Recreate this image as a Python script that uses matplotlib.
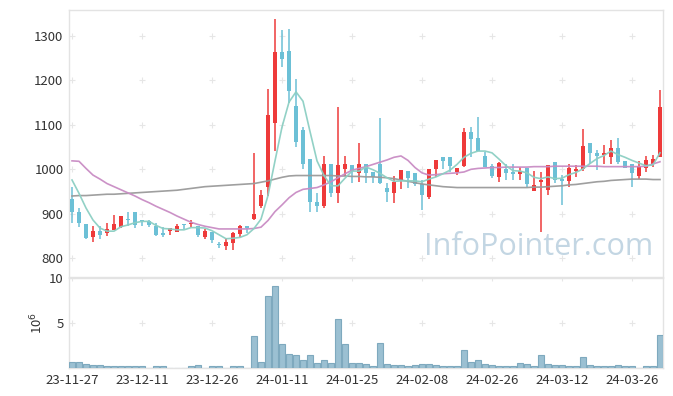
import matplotlib
matplotlib.use("Agg")
import matplotlib.pyplot as plt
import numpy as np

plt.rcParams['font.family'] = ['Noto Sans CJK KR', 'DejaVu Sans']

# ---- data ----
opens = [933, 905, 877, 847, 861, 858, 864, 870, 888, 905, 886, 883, 873, 856, 862, 860, 877, 876, 873, 847,
         859, 832, 828, 835, 855, 873, 889, 918, 961, 1105, 1264, 1266, 1142, 1088, 1023, 927, 918, 1012, 947, 1000,
         1010, 992, 1013, 993, 1013, 957, 947, 976, 996, 991, 967, 938, 1000, 1027, 1027, 995, 1008, 1083, 1070, 1031,
         1007, 983, 1001, 995, 990, 1004, 952, 972, 953, 1016, 978, 974, 997, 1000, 1059, 1036, 1032, 1028, 1048, 1018,
         1013, 985, 1004, 1013, 1028]
highs = [960, 912, 877, 873, 873, 879, 897, 895, 904, 905, 886, 886, 879, 870, 867, 877, 877, 886, 873, 865,
         859, 837, 845, 858, 875, 873, 1037, 953, 1180, 1337, 1314, 1316, 1202, 1094, 1023, 947, 1030, 1012, 1139, 1031,
         1010, 1058, 1013, 993, 1115, 970, 985, 998, 996, 991, 976, 1000, 1022, 1027, 1027, 1004, 1092, 1094, 1117, 1038,
         1012, 1017, 1011, 1011, 1006, 1004, 996, 995, 1010, 1016, 987, 1011, 1009, 1090, 1059, 1043, 1055, 1066, 1070, 1018,
         1013, 1019, 1030, 1032, 1178]
lows = [879, 870, 844, 837, 843, 850, 864, 867, 873, 867, 873, 870, 850, 849, 852, 858, 865, 871, 847, 844,
        834, 823, 819, 819, 849, 856, 886, 912, 940, 1042, 1229, 1150, 1051, 1001, 905, 905, 912, 938, 925, 986,
        969, 972, 970, 970, 966, 927, 924, 955, 957, 962, 909, 934, 982, 1000, 995, 987, 1005, 1028, 1042, 1006,
        981, 972, 976, 976, 976, 960, 951, 858, 942, 969, 919, 960, 983, 997, 1013, 998, 1013, 1012, 1013, 1004,
        960, 979, 995, 1006, 1028]
closes = [903, 879, 846, 862, 852, 866, 877, 895, 886, 875, 883, 874, 852, 852, 867, 873, 874, 880, 852, 862,
          841, 829, 837, 856, 873, 868, 900, 942, 1122, 1264, 1248, 1177, 1062, 1013, 927, 918, 1012, 947, 1010, 1013,
          996, 1013, 992, 982, 970, 950, 971, 998, 981, 967, 943, 1000, 1022, 1019, 1007, 1004, 1083, 1068, 1042, 1006,
          986, 1014, 992, 989, 996, 967, 964, 976, 1010, 976, 974, 1003, 1001, 1052, 1036, 1031, 1036, 1048, 1017, 1004,
          992, 1007, 1021, 1023, 1141]
ma5 = [976, 946, 913, 886, 868, 861, 861, 871, 875, 880, 883, 883, 874, 867, 866, 864, 864, 869, 869, 868,
       862, 853, 844, 845, 847, 853, 867, 888, 941, 1019, 1095, 1151, 1174, 1153, 1085, 1019, 986, 963, 963, 980,
       996, 996, 1005, 999, 991, 981, 973, 974, 974, 974, 972, 978, 983, 990, 998, 1011, 1027, 1036, 1041, 1041,
       1037, 1023, 1008, 997, 996, 992, 982, 979, 983, 979, 980, 988, 993, 1001, 1013, 1024, 1031, 1041, 1033, 1027,
       1020, 1014, 1008, 1010, 1037]
ma20 = [1019, 1018, 1002, 987, 978, 968, 961, 954, 947, 940, 932, 925, 917, 910, 903, 895, 888, 881, 876, 872,
        869, 866, 866, 866, 866, 866, 867, 870, 885, 905, 920, 936, 948, 955, 957, 959, 965, 972, 981, 990,
        998, 1002, 1006, 1011, 1016, 1021, 1027, 1030, 1020, 1004, 992, 987, 988, 990, 991, 992, 994, 1000, 1002, 1003,
        1004, 1004, 1005, 1005, 1005, 1005, 1006, 1006, 1006, 1007, 1007, 1007, 1007, 1007, 1007, 1007, 1006, 1006, 1006, 1006,
        1006, 1006, 1007, 1012, 1017]
ma60 = [940, 941, 941, 942, 943, 944, 944, 945, 946, 947, 948, 949, 950, 951, 952, 953, 955, 957, 959, 961,
        962, 963, 964, 965, 966, 967, 968, 971, 974, 978, 982, 985, 986, 986, 986, 986, 986, 986, 985, 985,
        984, 984, 983, 983, 982, 981, 979, 976, 973, 970, 967, 965, 963, 961, 960, 959, 959, 959, 959, 959,
        959, 959, 959, 959, 959, 959, 960, 960, 961, 962, 963, 965, 966, 968, 970, 972, 973, 975, 976, 977,
        978, 978, 978, 977, 977]
volume_m = [0.67, 0.67, 0.44, 0.33, 0.33, 0.22, 0.2, 0.2, 0.2, 0.2, 0.2, 0.05, 0.2, 0.2, 0.05, 0.05, 0.05, 0.2, 0.33, 0.05,
            0.2, 0.2, 0.05, 0.2, 0.2, 0.05, 3.55, 0.67, 8.0, 9.1, 2.67, 1.56, 1.45, 0.89, 1.45, 0.56, 0.89, 0.56, 5.44, 2.67,
            0.56, 0.56, 0.44, 0.2, 2.78, 0.44, 0.33, 0.33, 0.2, 0.33, 0.44, 0.44, 0.33, 0.2, 0.2, 0.2, 2.0, 0.67, 0.89, 0.44,
            0.33, 0.2, 0.2, 0.2, 0.56, 0.44, 0.2, 1.45, 0.44, 0.33, 0.33, 0.2, 0.2, 1.22, 0.33, 0.2, 0.2, 0.2, 0.33, 0.2,
            0.2, 0.05, 0.2, 0.2, 3.67]
tick_labels = ['23-11-27', '23-12-11', '23-12-26', '24-01-11', '24-01-25', '24-02-08', '24-02-26', '24-03-12', '24-03-26']
price_ticks = [800, 900, 1000, 1100, 1200, 1300]
vol_ticks = [5, 10]

# ---- figure ----
W, H = 673, 396
fig = plt.figure(figsize=(W / 100, H / 100), dpi=100)
L, R = 69, 663
ax = fig.add_axes([L / W, 1 - 277 / H, (R - L) / W, 267 / H])
axv = fig.add_axes([L / W, 1 - 368 / H, (R - L) / W, 90 / H])

n = len(closes)
x = np.arange(n)
tick_pos = np.arange(0, n, 10)[:len(tick_labels)]

UP = '#ee3a3a'
DOWN = '#6cc0d6'
for i in x:
    o, h, l, c = opens[i], highs[i], lows[i], closes[i]
    col = UP if c >= o else DOWN
    ax.vlines(i, l, h, color=col, lw=1.1, zorder=3)
    lo = min(o, c)
    hgt = max(abs(c - o), 1.5)
    ax.bar(i, hgt, bottom=lo, width=0.7, color=col, edgecolor='none', zorder=4)

ax.plot(x, ma60, color='#9a9a9a', lw=1.2, alpha=0.95, zorder=5)
ax.plot(x, ma20, color='#c98cc4', lw=1.2, alpha=0.95, zorder=5)
ax.plot(x, ma5, color='#8ccfc3', lw=1.2, alpha=0.95, zorder=5)

xl = (-0.43, n - 1 + 0.43)
ax.set_xlim(*xl)
ax.set_ylim(758, 1358)
ax.set_yticks(price_ticks)
ax.set_xticks(tick_pos)
ax.set_xticklabels([])

# grid crosses
gx, gy = np.meshgrid(tick_pos, price_ticks)
ax.scatter(gx.ravel(), gy.ravel(), marker='+', s=18, color='#e6e6e6', lw=0.8, zorder=1)

ax.text(0.983, 0.055, 'InfoPointer.com', transform=ax.transAxes, ha='right', va='bottom',
        fontsize=22, color='#c3d6e3', family=['Open Sans', 'DejaVu Sans'], zorder=2)

# volume
axv.bar(x, volume_m, width=0.85, color='#9bc0d2', edgecolor='#7ea9be', lw=0.8, zorder=3)
axv.set_xlim(*xl)
axv.set_ylim(0, 10)
axv.set_yticks(vol_ticks)
axv.set_xticks(tick_pos)
axv.set_xticklabels(tick_labels)
gx2, gy2 = np.meshgrid(tick_pos, vol_ticks)
axv.scatter(gx2.ravel(), gy2.ravel(), marker='+', s=18, color='#e6e6e6', lw=0.8, zorder=1)
fig.text(37 / W, 1 - 323 / H, '10$^6$', rotation=90, ha='center', va='center', fontsize=9.5, color='#333333')

for a in (ax, axv):
    for s in a.spines.values():
        s.set_color('#e3e3e3')
        s.set_linewidth(1)
    a.tick_params(length=0, labelsize=9.5, colors='#333333', pad=4)

fig.savefig('out.png', dpi=100)
